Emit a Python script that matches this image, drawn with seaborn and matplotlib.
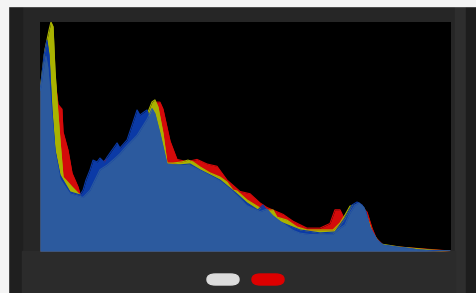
import numpy as np
import pandas as pd
import matplotlib
matplotlib.use("Agg")
import matplotlib.pyplot as plt
from matplotlib.patches import Rectangle, FancyBboxPatch
import seaborn as sns

# tone level (0-255) / relative count (% of max)
red_x = [0, 4.3, 6.8, 9.3, 11.2, 13.6, 14.3, 17.4, 19.9, 23.6, 24.8, 26.7, 31.0, 37.2, 49.6, 60.2,
         68.2, 72.0, 74.4, 76.3, 80.7, 85.0, 91.2, 97.4, 103.6, 109.8, 116.0, 124.1, 130.3, 136.5,
         140.8, 150.8, 157.0, 165.6, 173.7, 179.9, 183.0, 186.1, 189.2, 193.6, 198.5, 202.9, 206.0,
         208.5, 212.8, 223.3, 254.4]
red_y = [70, 90, 96, 75, 64, 62, 52, 44, 34, 28, 25, 24, 27, 38, 44, 51,
         59, 65, 65, 62, 48, 40, 39, 40, 38, 37, 31, 26, 25, 21,
         19, 16, 13, 10, 10, 12, 18, 18, 13.5, 17, 20, 17, 10,
         5.7, 2.6, 1.7, 0]

yel_x = [0, 3.1, 5.6, 6.8, 8.1, 9.3, 10.5, 12.4, 14.3, 19.9, 23.6, 26.0, 31.0, 37.2, 49.6, 60.2,
         67.0, 69.5, 71.3, 73.2, 76.3, 78.8, 82.5, 88.1, 91.8, 94.9, 99.3, 105.5, 111.7, 116.0,
         119.7, 122.2, 128.4, 136.5, 138.3, 141.0, 144.6, 147.0, 153.2, 159.4, 165.6, 173.7, 181.8,
         186.1, 189.2, 192.3, 195.4, 201.6, 206.0, 211.0, 223.4, 243.8, 254.4]
yel_y = [70, 88, 96.5, 100, 98, 79, 66, 48.5, 32.3, 28, 25.3, 24, 25.8, 36.2, 43.2, 52.8,
         60.7, 65.1, 66, 62.9, 51.5, 38.4, 38.4, 38.9, 39.7, 38.9, 36.7, 34.1, 32.3, 30.1,
         26.6, 26.2, 22.3, 18.8, 17.5, 17.8, 17.9, 14.8, 13.5, 10.5, 9.2, 9.2, 9.2,
         12.2, 15.7, 19.6, 20.1, 17.9, 8.3, 3.1, 1.7, 0.4, 0]

blu_x = [0, 0.6, 2.5, 4.3, 5.6, 7.4, 9.3, 12.4, 18.6, 24.8, 26.7, 28.5, 31.0, 32.9, 35.4, 37.2,
         39.7, 41.6, 44.7, 47.8, 49.6, 54.0, 57.1, 60.2, 62.0, 64.5, 66.4, 68.2, 70.1, 74.4,
         78.8, 86.9, 93.1, 99.3, 111.7, 122.2, 128.4, 135.2, 138.3, 141.5, 148.9, 161.3, 173.7,
         183.0, 189.2, 193.6, 196.7, 199.8, 202.3, 204.7, 209.1, 212.8, 221.5, 235.8, 254.4]
blu_y = [70, 73, 85.6, 92, 85.6, 61.6, 44.1, 33.2, 25.8, 24.5, 26.6, 31, 35.4, 39.7, 38.9, 40.6,
         38.9, 41, 44.1, 47.2, 45, 48.5, 55, 61.6, 59.4, 60.7, 61.6, 57.2, 55, 46.3,
         37.6, 37.6, 38, 35.4, 31, 24.9, 21, 17.9, 20.1, 17, 12.7, 9.2, 7.9,
         8.3, 14.4, 20.1, 21.4, 20.1, 17, 10, 4.8, 2.6, 1.7, 0.4, 0]

lum_x = [0, 0.6, 2.5, 3.7, 4.9, 6.8, 9.3, 12.4, 18.6, 24.8, 26.7, 31.0, 37.2, 41.6, 46.6, 49.6,
         54.0, 60.2, 66.4, 69.5, 71.3, 74.4, 78.8, 86.9, 93.1, 97.4, 103.6, 111.7, 117.9, 122.2,
         128.4, 136.5, 140.8, 144.6, 150.8, 157.0, 161.3, 167.5, 181.8, 186.1, 189.2, 192.3, 195.4,
         197.9, 201.0, 204.7, 209.1, 212.8, 221.5, 227.7, 235.8, 243.8, 254.4]
lum_y = [70, 72, 81, 85, 80, 63, 43, 31.5, 25, 23.8, 23.4, 26.5, 35.5, 37.5, 40.5, 42.5,
         46, 50.5, 57.5, 62.2, 60, 51.5, 38, 37.4, 37.3, 35.8, 33.6, 30.5, 27, 24.2,
         19.8, 17.2, 18.3, 15.2, 12, 9, 7.8, 7.2, 7.4, 10, 11.4, 16.6, 20,
         21, 19, 10.5, 4.8, 2.6, 1.7, 1.3, 0.4, 0, 0]

pill_colors = ["#dcdcdc", "#dd0000"]

layers = [
    ("red", red_x, red_y, "#d40a0a"),
    ("yellow", yel_x, yel_y, "#a9b300"),
    ("blue", blu_x, blu_y, "#0b3aa6"),
    ("lum", lum_x, lum_y, "#2c5a9e"),
]

frames = []
for name, xs, ys, col in layers:
    frames.append(pd.DataFrame({"tone": xs, "count": ys, "channel": name}))
df = pd.concat(frames, ignore_index=True)

sns.set_theme(style="dark")
fig = plt.figure(figsize=(4.76, 2.93), dpi=100, facecolor="#282828")

# device frame
fig.add_artist(Rectangle((0, 0), 1, 1, transform=fig.transFigure, color="#262626", zorder=-10))
fig.add_artist(Rectangle((8 / 476, 0), 14 / 476, 1, transform=fig.transFigure, color="#1f1f1f", zorder=-9))
fig.add_artist(Rectangle((455 / 476, 0), 10 / 476, 1, transform=fig.transFigure, color="#2e2e2e", zorder=-9))
fig.add_artist(Rectangle((466 / 476, 0), 10 / 476, 1, transform=fig.transFigure, color="#1d1d1d", zorder=-9))
fig.add_artist(Rectangle((22 / 476, 0), 433 / 476, 42 / 293, transform=fig.transFigure, color="#2b2b2b", zorder=-8))
fig.add_artist(Rectangle((0, 287 / 293), 1, 6 / 293, transform=fig.transFigure, color="#f4f4f4", zorder=-7))
fig.add_artist(Rectangle((0, 0), 8 / 476, 1, transform=fig.transFigure, color="#f4f4f4", zorder=-7))

ax = fig.add_axes([40 / 476, 42 / 293, 411 / 476, 229 / 293])
ax.set_facecolor("black")

for i, (name, xs, ys, col) in enumerate(layers):
    sub = df[df["channel"] == name]
    ax.fill_between(sub["tone"], 0, sub["count"], color=col, linewidth=0, zorder=2 * i + 1)
    sns.lineplot(data=sub, x="tone", y="count", color=col, linewidth=0.8, ax=ax,
                 legend=False, estimator=None, sort=False, zorder=2 * i + 1.5)

ax.set_xlim(0, 255)
ax.set_ylim(0, 100)
ax.set_xticks([])
ax.set_yticks([])
ax.set_xlabel("")
ax.set_ylabel("")
for s in ax.spines.values():
    s.set_visible(False)

# indicator pills
for i, c in enumerate(pill_colors):
    x0 = (207 + i * 45) / 476
    fig.add_artist(FancyBboxPatch((x0, 8 / 293), 32 / 476, 11 / 293,
                                  boxstyle="round,pad=0,rounding_size=0.018",
                                  transform=fig.transFigure, color=c, zorder=5))

fig.savefig("out.png", dpi=100, facecolor=fig.get_facecolor())
